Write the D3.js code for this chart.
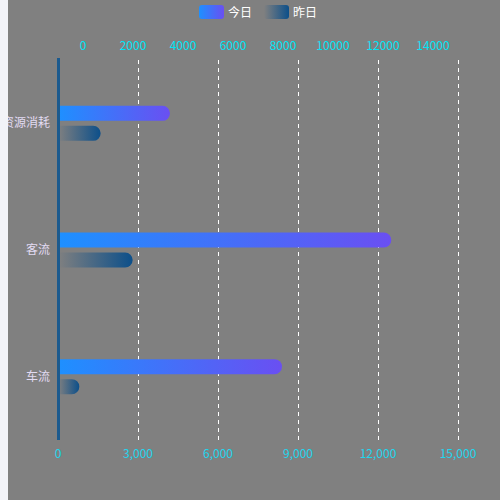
<!DOCTYPE html>
<html><head><meta charset="utf-8">
<script src="https://cdn.jsdelivr.net/npm/d3@7"></script>
<style>html,body{margin:0;padding:0;background:#f2f3f8;}svg{display:block;}</style>
</head><body><svg id="c" width="500" height="500"></svg>
<script>
const categories = ['资源消耗', '客流', '车流'];
const seriesNames = ['今日', '昨日'];
const todayValues = [4200, 12500, 8400];
const yesterdayValues = [1600, 2800, 800];
const topTickLabels = ['0','2000','4000','6000','8000','10000','12000','14000'];
const bottomTicks = [0, 3000, 6000, 9000, 12000, 15000];

const svg = d3.select('#c');
const font = '"Noto Sans CJK SC","Microsoft YaHei",sans-serif';
const L = 58, R = 458, T = 60, B = 440;

svg.append('rect').attr('x', 8).attr('y', 0).attr('width', 492).attr('height', 500).attr('fill', '#808080');

const defs = svg.append('defs');
const g1 = defs.append('linearGradient').attr('id', 'gToday').attr('x1', '0%').attr('x2', '100%').attr('y1', '0%').attr('y2', '0%');
g1.append('stop').attr('offset', '0%').attr('stop-color', '#1e90ff');
g1.append('stop').attr('offset', '100%').attr('stop-color', '#6a4ff2');
const g2 = defs.append('linearGradient').attr('id', 'gYest').attr('x1', '0%').attr('x2', '100%').attr('y1', '0%').attr('y2', '0%');
g2.append('stop').attr('offset', '0%').attr('stop-color', '#0c4f8a').attr('stop-opacity', 0);
g2.append('stop').attr('offset', '100%').attr('stop-color', '#0c4f8a').attr('stop-opacity', 1);

const x = d3.scaleLinear().domain([0, 15000]).range([L, R]);
const y = d3.scaleBand().domain(categories).range([T, B]);
const sub = d3.scaleBand().domain(seriesNames).range([-17.5, 17.5]).paddingInner(0.25);
const xTop = d3.scaleBand().domain(topTickLabels).range([L, R]);

// grid
svg.append('g').selectAll('line').data(bottomTicks.filter(d => d > 0)).join('line')
  .attr('x1', d => x(d) + 0.5).attr('x2', d => x(d) + 0.5).attr('y1', T).attr('y2', B)
  .attr('stroke', '#ffffff').attr('stroke-width', 1).attr('stroke-dasharray', '4,4');

// bars
function barPath(x0, x1, yy, h) {
  const r = h / 2;
  const xe = Math.max(x0, x1 - r);
  return `M${x0},${yy}H${xe}A${r},${r} 0 0 1 ${xe},${yy + h}H${x0}Z`;
}
const series = [
  {name: '今日', values: todayValues, fill: 'url(#gToday)'},
  {name: '昨日', values: yesterdayValues, fill: 'url(#gYest)'}
];
series.forEach(s => {
  svg.append('g').selectAll('path').data(categories).join('path')
    .attr('d', (c, i) => {
      const yy = y(c) + y.bandwidth() / 2 + sub(s.name);
      return barPath(x(0), x(s.values[i]), yy, sub.bandwidth());
    })
    .attr('fill', s.fill);
});

// y axis line
svg.append('line').attr('x1', L + 0.5).attr('x2', L + 0.5).attr('y1', T - 2).attr('y2', B)
  .attr('stroke', '#1b5a8e').attr('stroke-width', 3);

// category labels
svg.append('g').selectAll('text').data(categories).join('text')
  .attr('x', L - 8).attr('y', c => y(c) + y.bandwidth() / 2 - 1.5)
  .attr('text-anchor', 'end').attr('dominant-baseline', 'central')
  .attr('fill', '#e2dbf2').attr('font-size', 12).attr('font-family', font)
  .text(c => c);

// top axis
svg.append('g').selectAll('text').data(topTickLabels).join('text')
  .attr('x', d => xTop(d) + xTop.bandwidth() / 2).attr('y', 44)
  .attr('text-anchor', 'middle').attr('dominant-baseline', 'central')
  .attr('fill', '#00e5f5').attr('font-size', 12).attr('font-family', font)
  .text(d => d);

// bottom axis
svg.append('g').selectAll('text').data(bottomTicks).join('text')
  .attr('x', d => x(d)).attr('y', 452.5)
  .attr('text-anchor', 'middle').attr('dominant-baseline', 'central')
  .attr('fill', '#1fd6ee').attr('font-size', 12).attr('font-family', font)
  .text(d => d3.format(',')(d));

// legend
const leg = [
  {name: '今日', fill: 'url(#gToday)', x: 199},
  {name: '昨日', fill: 'url(#gYest)', x: 264}
];
const lg = svg.append('g');
lg.selectAll('rect').data(leg).join('rect')
  .attr('x', d => d.x).attr('y', 5).attr('width', 25).attr('height', 14).attr('rx', 3)
  .attr('fill', d => d.fill);
lg.selectAll('text').data(leg).join('text')
  .attr('x', d => d.x + 29).attr('y', 11.5).attr('dominant-baseline', 'central')
  .attr('fill', '#ffffff').attr('font-size', 12).attr('font-family', font)
  .text(d => d.name);

// left strip
svg.append('rect').attr('x', 0).attr('y', 0).attr('width', 8).attr('height', 500).attr('fill', '#f2f3f8');
</script></body></html>
